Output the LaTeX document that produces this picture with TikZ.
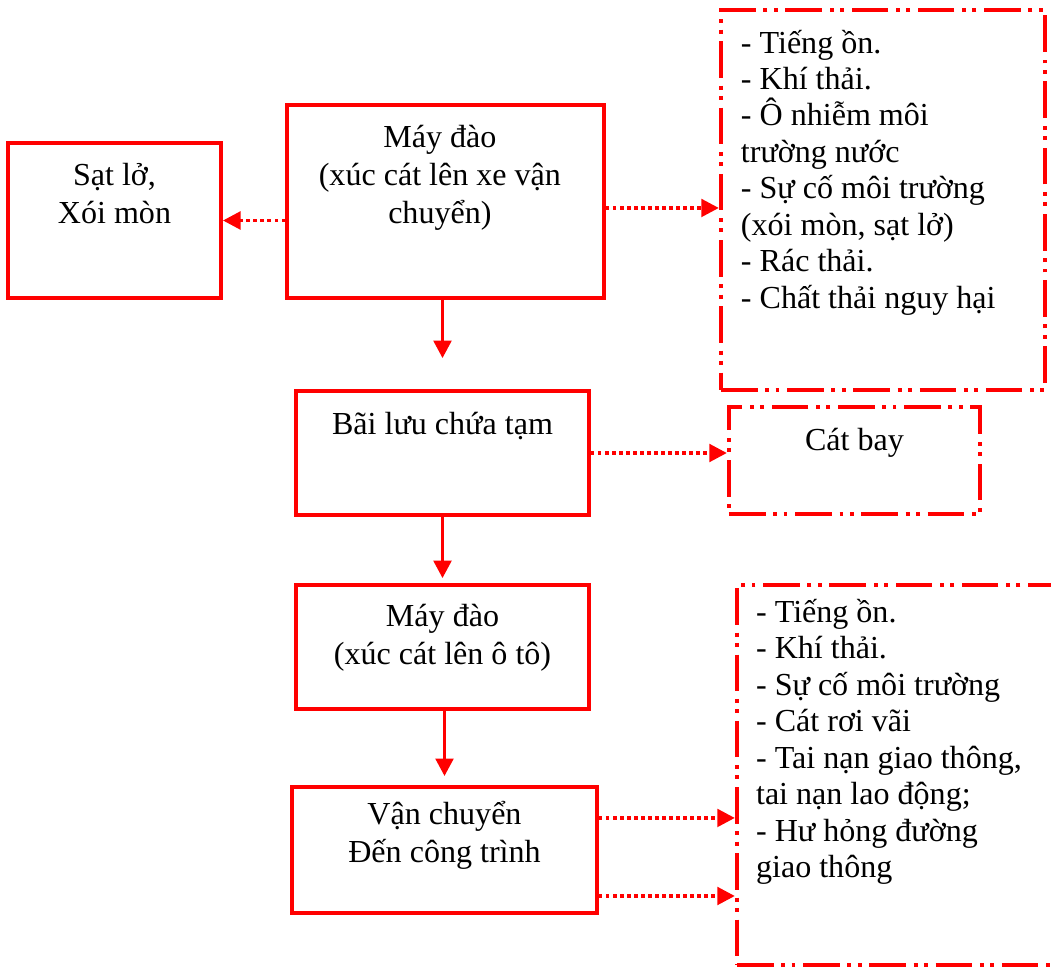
\documentclass[tikz,border=0pt]{standalone}
\usepackage{fontspec}
\setmainfont{Liberation Serif}
\usetikzlibrary{arrows.meta,positioning}
\definecolor{hazard}{RGB}{255,0,0}

\begin{document}
\begin{tikzpicture}[x=0.025cm,y=-0.025cm,>={Triangle[length=12.5pt,width=12.5pt]},
     font=\fontsize{22.8}{27}\selectfont,
     bx/.style={draw=hazard,line width=2.7pt,inner sep=0pt},
     ib/.style={draw=hazard,line width=3pt,inner sep=0pt,dash pattern=on 26pt off 5.5pt on 2.8pt off 4.5pt on 2.8pt off 5.5pt},
     tx/.style={align=center,anchor=north,inner sep=0pt},
     lx/.style={align=left,anchor=north west,inner sep=0pt,font=\fontsize{22.8}{25.9}\selectfont},
     ar/.style={->,hazard,line width=2.6pt},
     dt/.style={->,hazard,line width=2.5pt,dash pattern=on 2.5pt off 2.5pt}]
    \useasboundingbox (0,0) rectangle (1051,966);
    % process boxes
    \node[bx,minimum width=5.325cm,minimum height=3.875cm] (sat) at (114.5,220.5) {};
    \node[bx,minimum width=7.925cm,minimum height=4.825cm] (may1) at (445.5,201.5) {};
    \node[bx,minimum width=7.325cm,minimum height=3.1cm] (bai) at (442.5,453) {};
    \node[bx,minimum width=7.325cm,minimum height=3.1cm] (may2) at (442.5,647) {};
    \node[bx,minimum width=7.625cm,minimum height=3.15cm] (vc) at (444.5,850) {};
    % impact boxes
    \node[ib,minimum width=8.1cm,minimum height=9.5cm] (tac1) at (883,200) {};
    \node[ib,minimum width=6.275cm,minimum height=2.675cm] (cat) at (854.5,460.5) {};
    \node[ib,minimum width=8.45cm,minimum height=9.5cm] (tac3) at (906,775) {};
    % texts
    \node[tx] (satT) at ([yshift=-15.4pt]sat.north) {Sạt lở,\\Xói mòn};
    \node[tx] (may1T) at ([xshift=-4pt,yshift=-15.4pt]may1.north) {Máy đào\\(xúc cát lên xe vận\\chuyển)};
    \node[tx] (baiT) at ([yshift=-16pt]bai.north) {Bãi lưu chứa tạm};
    \node[tx] (may2T) at ([yshift=-14.7pt]may2.north) {Máy đào\\(xúc cát lên ô tô)};
    \node[tx] (vcT) at ([yshift=-11pt]vc.north) {Vận chuyển\\Đến công trình};
    \node[tx] (catT) at ([yshift=-16.5pt]cat.north) {Cát bay};
    \node[lx] (tac1T) at ([xshift=15.5pt,yshift=-15.5pt]tac1.north west)
      {- Tiếng ồn.\\- Khí thải.\\- Ô nhiễm môi\\trường nước\\- Sự cố môi trường\\(xói mòn, sạt lở)\\- Rác thải.\\- Chất thải nguy hại};
    \node[lx] (tac3T) at ([xshift=14.9pt,yshift=-11.5pt]tac3.north west)
      {- Tiếng ồn.\\- Khí thải.\\- Sự cố môi trường\\- Cát rơi vãi\\- Tai nạn giao thông,\\tai nạn lao động;\\- Hư hỏng đường\\giao thông};
    % connectors
    \coordinate (m1r) at ([yshift=-4.6pt]may1.east);
    \coordinate (vc1) at ([yshift=22.8pt]vc.east);
    \coordinate (vc2) at ([yshift=-32.7pt]vc.east);
    \draw[dt] (may1.west |- sat.east) -- (sat.east);
    \draw[dt] (m1r) -- (m1r -| tac1.west);
    \draw[dt] (bai.east) -- (bai.east -| cat.west);
    \draw[dt] (vc1) -- (vc1 -| tac3.west);
    \draw[dt] (vc2) -- (vc2 -| tac3.west);
    \draw[ar] (bai.north |- may1.south) -- ([yshift=22pt]bai.north);
    \draw[ar] (bai.south) -- ([yshift=3.5pt]may2.north);
    \draw[ar] (vc.north |- may2.south) -- ([yshift=6.4pt]vc.north);
  \end{tikzpicture}
\end{document}
